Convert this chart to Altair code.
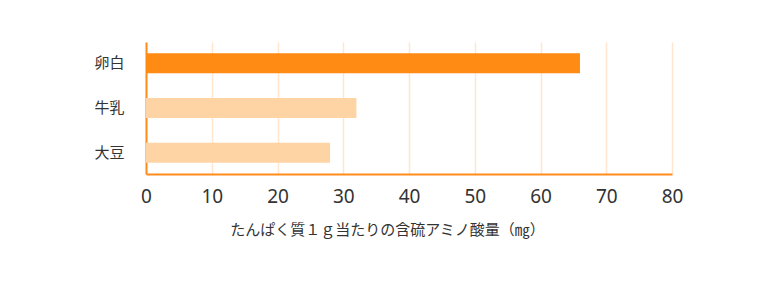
import altair as alt
import pandas as pd

categories = ["卵白", "牛乳", "大豆"]
values = [66, 32, 28]
highlight = ["yes", "no", "no"]

df = pd.DataFrame({"food": categories, "value": values, "hl": highlight})

FONT = "Noto Sans CJK JP"

chart = alt.Chart(df).mark_bar().encode(
    y=alt.Y("food:N", sort=categories, title=None,
            scale=alt.Scale(paddingInner=0.55, paddingOuter=0.25),
            axis=alt.Axis(labelFont=FONT, labelFontSize=15, labelColor="#333333",
                          labelPadding=22, ticks=False, domainColor="#FF8C1A",
                          domainWidth=2, grid=False)),
    x=alt.X("value:Q", title="たんぱく質１ｇ当たりの含硫アミノ酸量（㎎）",
            scale=alt.Scale(domain=[0, 80]),
            axis=alt.Axis(values=[0, 10, 20, 30, 40, 50, 60, 70, 80],
                          labelFont="Noto Sans", labelFontSize=19, labelColor="#333333",
                          labelPadding=13, labelFlush=False, ticks=False,
                          domainColor="#FF8C1A", domainWidth=2,
                          gridColor="#FFE6CC", gridWidth=1.5,
                          titleFont=FONT, titleFontSize=15, titleFontWeight="normal",
                          titleColor="#333333", titlePadding=16, titleX=241)),
    color=alt.Color("hl:N", scale=alt.Scale(domain=["yes", "no"],
                                            range=["#FF8A14", "#FFD4A4"]),
                    legend=None),
).properties(
    width=526, height=132,
    autosize=alt.AutoSizeParams(type="none"),
    padding={"left": 146, "top": 42, "right": 103, "bottom": 107},
).configure_view(stroke=None)

chart.save("out.html", embed_options={"renderer": "svg", "actions": False})
